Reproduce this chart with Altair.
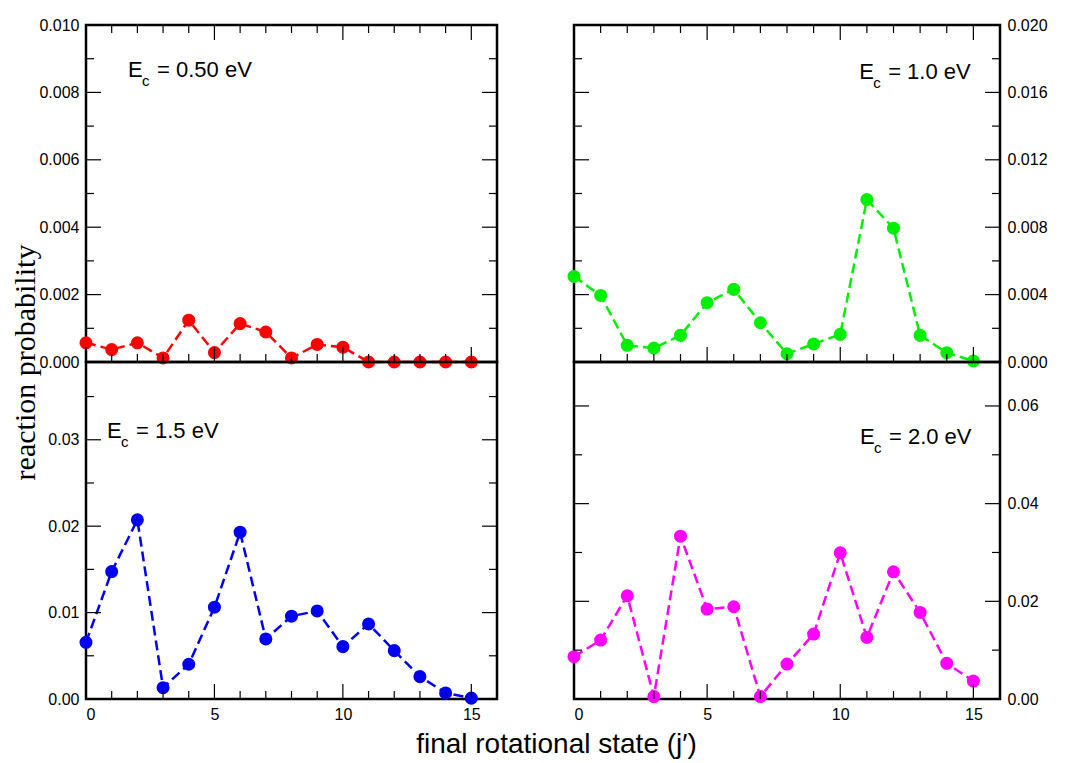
import altair as alt
import pandas as pd

# ---------------- data ----------------
j_states = list(range(16))

prob_050 = [0.00057, 0.00037, 0.00057, 0.00012, 0.00124, 0.00028, 0.00114, 0.00089,
            0.00012, 0.00052, 0.00044, 0.0, 0.0, 0.0, 0.0, 0.0]
prob_100 = [0.00508, 0.00395, 0.00099, 0.00083, 0.00158, 0.00352, 0.00431, 0.00233,
            0.00049, 0.00107, 0.00164, 0.00964, 0.00794, 0.00158, 0.00055, 0.00006]
prob_150 = [0.00656, 0.01475, 0.02073, 0.00131, 0.00402, 0.01062, 0.0193, 0.00695,
            0.00958, 0.01019, 0.00606, 0.00869, 0.0056, 0.00259, 0.0007, 0.0001]
prob_200 = [0.00866, 0.01207, 0.02114, 0.0005, 0.03334, 0.01841, 0.01889, 0.0005,
            0.00716, 0.0133, 0.02993, 0.01261, 0.02605, 0.01773, 0.0073, 0.00368]

energy_labels = ["0.50", "1.0", "1.5", "2.0"]

x_major = [0, 5, 10, 15]
x_minor = [1, 2, 3, 4, 6, 7, 8, 9, 11, 12, 13, 14]

y_major_050 = [0.0, 0.002, 0.004, 0.006, 0.008, 0.010]
y_minor_050 = [0.001, 0.003, 0.005, 0.007, 0.009]
y_major_100 = [0.0, 0.004, 0.008, 0.012, 0.016, 0.020]
y_minor_100 = [0.002, 0.006, 0.010, 0.014, 0.018]
y_major_150 = [0.0, 0.01, 0.02, 0.03]
y_minor_150 = [0.005, 0.015, 0.025, 0.035]
y_major_200 = [0.0, 0.02, 0.04, 0.06]
y_minor_200 = [0.01, 0.03, 0.05]

FONT = "Liberation Sans"
H = 337
W_LEFT = 411
W_RIGHT = 426
MAJ = 15
MIN = 8


def panel(values, color, ydom, ymajor, yminor, yfmt, side, width, bottom, energy,
          ann_x, ann_y, xtitle=None, ytitle=None):
    df = pd.DataFrame({"j": j_states, "p": values})
    xs = alt.Scale(domain=[0, 16], nice=False, zero=False)
    ys = alt.Scale(domain=ydom, nice=False, zero=False)

    xaxis_kw = dict(values=x_major, labels=bottom, ticks=False, domain=False, grid=False,
                    labelFontSize=16, labelFont=FONT, labelColor="black", labelPadding=7,
                    title=None)
    if xtitle:
        xaxis_kw.update(title=xtitle, titleFont=FONT, titleFontSize=28, titleFontWeight="normal",
                        titleColor="black", titleX=470, titleY=53, titleAlign="center",
                        titleBaseline="alphabetic", titleAnchor="start")
    yaxis_kw = dict(values=ymajor, format=yfmt, orient=side, ticks=False, domain=False,
                    grid=False, labelFontSize=16, labelFont=FONT, labelColor="black",
                    labelPadding=7, title=None)
    if ytitle:
        yaxis_kw.update(title=ytitle, titleFont="Liberation Serif", titleFontSize=30,
                        titleFontWeight="normal", titleColor="black", titleX=-52, titleY=H,
                        titleAngle=270, titleAlign="center", titleBaseline="alphabetic",
                        titleAnchor="start")

    def X(field):
        return alt.X(field, scale=xs, axis=alt.Axis(**xaxis_kw))

    def Y(field):
        return alt.Y(field, scale=ys, axis=alt.Axis(**yaxis_kw))

    base = alt.Chart(df)
    line = base.mark_line(color=color, strokeWidth=2.5, strokeDash=[10, 5]).encode(
        x=X("j:Q"), y=Y("p:Q"))
    pts = base.mark_circle(color=color, size=170, opacity=1).encode(
        x=X("j:Q"), y=Y("p:Q"))
    layers = [line, pts]

    def yticks(vals, length):
        d = pd.DataFrame({"v": vals})
        left = alt.Chart(d).mark_rule(color="black", strokeWidth=1.2).encode(
            y=Y("v:Q"), x=alt.value(0), x2=alt.value(length))
        right = alt.Chart(d).mark_rule(color="black", strokeWidth=1.2).encode(
            y=Y("v:Q"), x=alt.value(width - length), x2=alt.value(width))
        return [left, right]

    def xticks(vals, length, top):
        d = pd.DataFrame({"v": vals})
        out = [alt.Chart(d).mark_rule(color="black", strokeWidth=1.2).encode(
            x=X("v:Q"), y=alt.value(H - length), y2=alt.value(H))]
        if top:
            out.append(alt.Chart(d).mark_rule(color="black", strokeWidth=1.2).encode(
                x=X("v:Q"), y=alt.value(0), y2=alt.value(length)))
        return out

    layers += yticks(ymajor, MAJ) + yticks(yminor, MIN)
    layers += xticks(x_major, MAJ, not bottom) + xticks(x_minor, MIN, not bottom)

    ann = pd.DataFrame({"x": [ann_x], "y": [ann_y],
                        "e": ["E"], "c": ["c"], "rest": ["= " + energy + " eV"]})
    tb = alt.Chart(ann)
    layers.append(tb.mark_text(font=FONT, fontSize=22, align="left", baseline="alphabetic",
                               color="black").encode(text="e:N", x=X("x:Q"), y=Y("y:Q")))
    layers.append(tb.mark_text(font=FONT, fontSize=15, align="left", baseline="alphabetic",
                               color="black", dx=14, dy=9).encode(text="c:N", x=X("x:Q"), y=Y("y:Q")))
    layers.append(tb.mark_text(font=FONT, fontSize=22, align="left", baseline="alphabetic",
                               color="black", dx=29).encode(text="rest:N", x=X("x:Q"), y=Y("y:Q")))

    return alt.layer(*layers).properties(width=width, height=H)


tl = panel(prob_050, "#ff0000", [0, 0.010], y_major_050, y_minor_050, ".3f", "left", W_LEFT,
           False, energy_labels[0], 1.636, 0.00846, ytitle="reaction probability")
tr = panel(prob_100, "#00ee00", [0, 0.020], y_major_100, y_minor_100, ".3f", "right", W_RIGHT,
           False, energy_labels[1], 10.71, 0.0168)
bl = panel(prob_150, "#0000f0", [0, 0.039], y_major_150, y_minor_150, ".2f", "left", W_LEFT,
           True, energy_labels[2], 0.818, 0.03024, xtitle="final rotational state (j\u2032)")
br = panel(prob_200, "#ff00ff", [0, 0.069], y_major_200, y_minor_200, ".2f", "right", W_RIGHT,
           True, energy_labels[3], 10.74, 0.05226)

chart = alt.concat(tl, tr, bl, br, columns=2).properties(
    spacing=alt.RowColnumber(row=0, column=77),
    bounds="flush",
    padding={"left": 0, "top": 7, "right": 5, "bottom": 5},
    background="white",
).configure_view(stroke="black", strokeWidth=2.5)

chart.save("out.html", embed_options={"renderer": "svg", "actions": False})
